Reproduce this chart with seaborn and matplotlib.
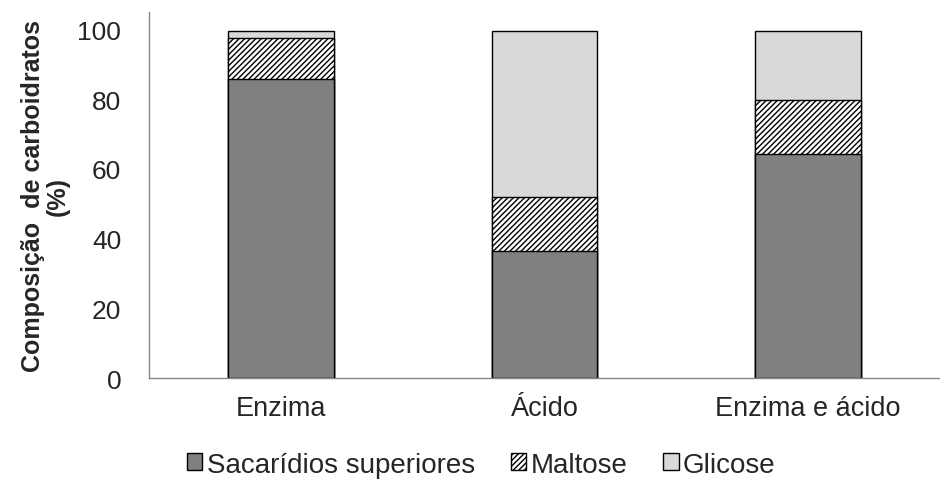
import matplotlib
matplotlib.use("Agg")
import matplotlib.pyplot as plt
from matplotlib.patches import Patch
import seaborn as sns
import numpy as np
import pandas as pd

categorias = ["Enzima", "Ácido", "Enzima e ácido"]
sacaridios = [85.7, 36.5, 64.2]
maltose = [11.8, 15.3, 15.5]
glicose = [2.0, 47.7, 19.8]

sns.set_style("white")
plt.rcParams['font.family'] = ['Liberation Sans', 'DejaVu Sans']
plt.rcParams['hatch.linewidth'] = 1.0

df = pd.DataFrame({"categoria": categorias,
                   "sac": sacaridios,
                   "mal": np.array(sacaridios) + np.array(maltose),
                   "gli": np.array(sacaridios) + np.array(maltose) + np.array(glicose)})

fig = plt.figure(figsize=(9.4, 4.81), dpi=100)
ax = fig.add_axes([0.1585, 0.212, 0.8415, 0.761])

# stacked bars drawn as cumulative heights, tallest first
sns.barplot(data=df, x="categoria", y="gli", color="#d9d9d9", width=0.4,
            edgecolor="black", linewidth=1, saturation=1, ax=ax)
n = len(ax.patches)
sns.barplot(data=df, x="categoria", y="mal", color="white", width=0.4,
            edgecolor="black", linewidth=1, saturation=1, ax=ax)
for p in ax.patches[n:]:
    p.set_hatch("//////")
sns.barplot(data=df, x="categoria", y="sac", color="#808080", width=0.4,
            edgecolor="black", linewidth=1, saturation=1, ax=ax)

ax.set_xlim(-0.5, 2.462)
ax.set_ylim(0, 105)
ax.set_yticks([0, 20, 40, 60, 80, 100])
ax.set_xticks([0, 1, 2])
ax.set_xticklabels(categorias, fontsize=19.5)
ax.set_xticks([-0.5, 0.5, 1.5, 2.5], minor=True)
ax.tick_params(axis="x", which="major", length=0, pad=12)
ax.tick_params(axis="x", which="minor", length=7, width=1, color="#868686", direction="out")
ax.tick_params(axis="y", length=6, width=1, color="#868686", labelsize=19, direction="out", pad=14)
ax.set_xlabel("")
ax.set_ylabel("Composição  de carboidratos\n(%)", fontsize=18, fontweight="bold",
              linespacing=1.05)
ax.yaxis.set_label_coords(-0.1, 0.5)

for s in ["top", "right"]:
    ax.spines[s].set_visible(False)
for s in ["left", "bottom"]:
    ax.spines[s].set_color("#868686")
    ax.spines[s].set_linewidth(1)

handles = [Patch(facecolor="#808080", edgecolor="black", label="Sacarídios superiores"),
           Patch(facecolor="white", edgecolor="black", hatch="//////", label="Maltose"),
           Patch(facecolor="#d9d9d9", edgecolor="black", label="Glicose")]
fig.legend(handles=handles, loc="center", bbox_to_anchor=(0.512, 0.032), ncol=3,
           frameon=False, fontsize=20, handlelength=0.55, handleheight=0.55,
           handletextpad=0.15, columnspacing=1.3)

fig.savefig("out.png", dpi=100)
